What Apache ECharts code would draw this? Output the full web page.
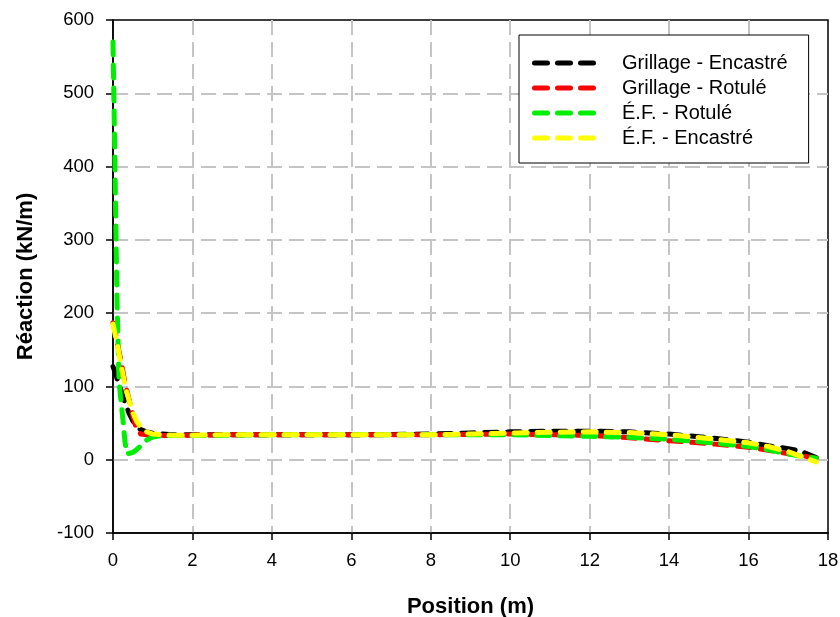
<!DOCTYPE html>
<html>
<head>
<meta charset="utf-8">
<script src="https://cdn.jsdelivr.net/npm/echarts@6/dist/echarts.min.js"></script>
<style>
  html, body { margin: 0; padding: 0; background: #fff; }
  #chart { width: 840px; height: 617px; }
</style>
</head>
<body>
<div id="chart"></div>
<script>
// position le long de la poutre (m)
const positions = [0, 0.05, 0.1, 0.15, 0.2, 0.25, 0.3, 0.35, 0.4, 0.5, 0.6, 0.7, 0.85, 1.0, 1.25, 1.5,
  2, 3, 4, 5, 6, 7, 8, 9, 10, 11, 12, 13, 14, 15, 16, 16.5, 17, 17.3, 17.7]

// réactions (kN/m)
const grillageEncastre = [127, 120, 111, 103, 95, 86, 78, 71, 64, 53, 45, 41, 38, 36, 35, 34,
  34, 34, 34, 34, 34, 34.5, 35, 36.5, 38, 39, 39, 38, 35, 30, 24, 19, 15, 12, 3]
const grillageRotule = [187, 175, 162, 148, 135, 120, 105, 94, 83, 60, 40, 35, 34, 33, 33, 33,
  33.5, 34, 34, 34, 34, 34, 34, 34.5, 35, 34, 33, 30, 26, 22, 17, 13, 8, 6, 2]
const efRotule = [570, 400, 220, 110, 80, 55, 25, 8, 6, 10, 14, 19, 27, 31, 33, 33,
  33, 33.5, 34, 34, 34, 34, 34, 34, 34, 33, 32, 30.5, 28, 23.5, 18, 13.5, 8, 5, 2]
const efEncastre = [185, 172, 160, 145, 130, 116, 103, 92, 82, 64, 52, 44, 38, 35, 34, 33.5,
  33.5, 34, 34, 34, 34, 34, 34, 35, 36.5, 37.5, 38, 37, 34, 29, 23, 18, 11, 5, -3]

const seriesNames = ['Grillage - Encastré', 'Grillage - Rotulé', 'É.F. - Rotulé', 'É.F. - Encastré']
const seriesColors = ['#000000', '#ff0000', '#00ee00', '#ffff00']
const seriesValues = [grillageEncastre, grillageRotule, efRotule, efEncastre]

const font = 'Liberation Sans, Arial, sans-serif'

// trois tirets arrondis pour la légende
const dashIcon = 'path://M2.5,0 h13 a2.5,2.5 0 0 1 0,5 h-13 a2.5,2.5 0 0 1 0,-5 Z' +
  ' M25.5,0 h13 a2.5,2.5 0 0 1 0,5 h-13 a2.5,2.5 0 0 1 0,-5 Z' +
  ' M48.5,0 h13 a2.5,2.5 0 0 1 0,5 h-13 a2.5,2.5 0 0 1 0,-5 Z'

const myChart = echarts.init(document.getElementById('chart'), null, { renderer: 'canvas' })

const gridLine = {
  show: true,
  showMinLine: false,
  showMaxLine: false,
  lineStyle: { color: '#c4c4c4', width: 2, type: [15, 7] },
}

const option = {
  animation: false,
  backgroundColor: '#ffffff',
  grid: {
    left: 113,
    right: 12,
    top: 20,
    bottom: 84,
    outerBoundsMode: 'none',
    show: true,
    borderColor: '#000',
    borderWidth: 1.5,
  },
  legend: {
    orient: 'vertical',
    left: 519,
    top: 35,
    backgroundColor: '#fff',
    borderColor: '#000',
    borderWidth: 1,
    padding: [18, 21, 15, 13],
    itemWidth: 64,
    itemHeight: 5,
    itemGap: 5,
    icon: dashIcon,
    data: seriesNames.map((name, i) => ({
      name,
      itemStyle: { color: seriesColors[i], borderWidth: 0 },
    })),
    textStyle: {
      fontFamily: font,
      fontSize: 20,
      lineHeight: 14,
      color: '#000',
      padding: [0, 0, 0, 21],
    },
  },
  xAxis: {
    type: 'value',
    min: 0,
    max: 18,
    interval: 2,
    name: 'Position (m)',
    nameLocation: 'middle',
    nameGap: 63,
    nameTextStyle: { fontFamily: font, fontSize: 22, fontWeight: 'bold', color: '#000' },
    axisLine: { show: true, onZero: false, lineStyle: { color: '#000', width: 1.5 } },
    axisTick: { show: true, inside: false, length: 7, lineStyle: { color: '#000', width: 1.5 } },
    axisLabel: { fontFamily: font, fontSize: 18.5, color: '#000', margin: 18 },
    splitLine: gridLine,
  },
  yAxis: {
    type: 'value',
    min: -100,
    max: 600,
    interval: 100,
    name: 'Réaction (kN/m)',
    nameLocation: 'middle',
    nameGap: 76,
    nameTextStyle: { fontFamily: font, fontSize: 22, fontWeight: 'bold', color: '#000' },
    axisLine: { show: true, lineStyle: { color: '#000', width: 1.5 } },
    axisTick: { show: true, inside: false, length: 7, lineStyle: { color: '#000', width: 1.5 } },
    axisLabel: { fontFamily: font, fontSize: 18.5, color: '#000', margin: 19 },
    splitLine: gridLine,
  },
  series: seriesNames.map((name, i) => ({
    name,
    type: 'line',
    showSymbol: false,
    symbol: 'none',
    color: seriesColors[i],
    lineStyle: {
      color: seriesColors[i],
      width: 5,
      type: [13, 10],
      cap: 'round',
      join: 'round',
    },
    data: positions.map((x, k) => [x, seriesValues[i][k]]),
    z: 2 + i,
  })),
}

myChart.setOption(option)
</script>
</body>
</html>
